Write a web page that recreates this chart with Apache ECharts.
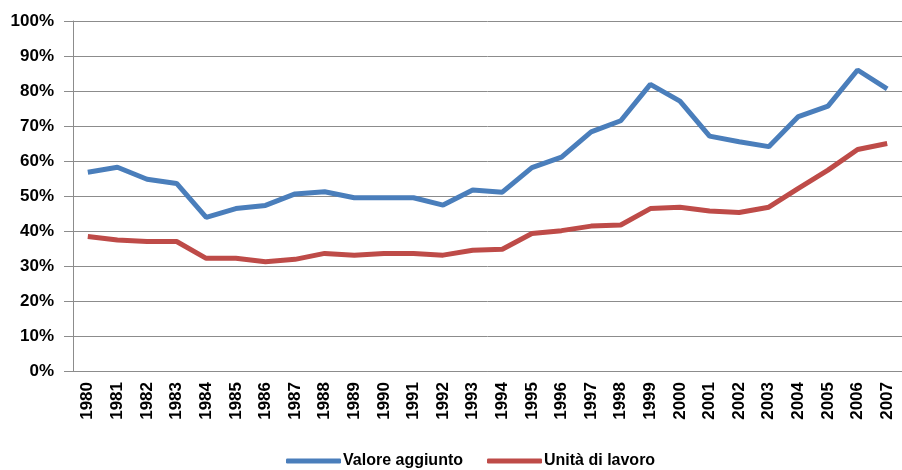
<!DOCTYPE html>
<html><head><meta charset="utf-8">
<script src="https://cdn.jsdelivr.net/npm/echarts@6/dist/echarts.min.js"></script>
<style>html,body{margin:0;padding:0;background:#fff;}#c{width:902px;height:470px;}</style>
</head><body><div id="c"></div>
<script>
const years = ['1980','1981','1982','1983','1984','1985','1986','1987','1988','1989','1990','1991','1992','1993','1994','1995','1996','1997','1998','1999','2000','2001','2002','2003','2004','2005','2006','2007'];
const valoreAggiunto = [56.8,58.2,54.8,53.6,43.9,46.4,47.3,50.6,51.2,49.5,49.5,49.5,47.4,51.7,51.1,58.1,61.1,68.3,71.5,81.9,77.1,67.1,65.5,64.1,72.7,75.7,86.0,80.6];
const unitaLavoro = [38.4,37.4,37.0,37.0,32.2,32.2,31.2,31.9,33.6,33.1,33.6,33.6,33.1,34.5,34.8,39.3,40.1,41.4,41.7,46.4,46.8,45.7,45.3,46.8,52.2,57.4,63.3,65.0];
const seriesNames = ['Valore aggiunto','Unità di lavoro'];
const chart = echarts.init(document.getElementById('c'));
const font = {fontFamily:'Liberation Sans, Arial, sans-serif', fontWeight:'bold', color:'#000'};
chart.setOption({
  animation:false,
  backgroundColor:'#fff',
  grid:{left:73,top:21,bottom:99,right:-3,containLabel:false},
  legend:{
    left:281, bottom:-4, itemWidth:55, itemHeight:5, itemGap:24, icon:'roundRect',
    textStyle:Object.assign({fontSize:16, padding:[0,0,0,-3]}, font),
    data:seriesNames
  },
  xAxis:{
    type:'category', data:years, boundaryGap:true,
    axisLine:{lineStyle:{color:'#8c8c8c',width:1}},
    axisTick:{length:4, lineStyle:{color:'#8c8c8c'}},
    axisLabel:Object.assign({rotate:90, fontSize:17, margin:11, interval:0}, font)
  },
  yAxis:{
    type:'value', min:0, max:100, interval:10,
    axisLine:{show:true, lineStyle:{color:'#8c8c8c'}},
    axisTick:{show:true, length:9, lineStyle:{color:'#8c8c8c'}},
    splitLine:{lineStyle:{color:'#8c8c8c',width:1}},
    axisLabel:Object.assign({fontSize:17, margin:19, formatter:'{value}%'}, font)
  },
  series:[
    {name:seriesNames[0], type:'line', data:valoreAggiunto, symbol:'none', lineStyle:{color:'#4a7ebb', width:5}, itemStyle:{color:'#4a7ebb'}},
    {name:seriesNames[1], type:'line', data:unitaLavoro, symbol:'none', lineStyle:{color:'#be4b48', width:5}, itemStyle:{color:'#be4b48'}}
  ]
});
</script></body></html>
